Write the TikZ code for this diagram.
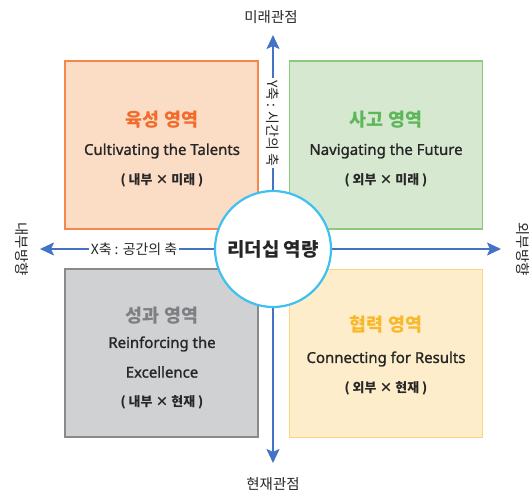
\documentclass[tikz,border=0pt]{standalone}
\usepackage{fontspec}
\setmainfont{Noto Sans CJK KR}
\newfontfamily\engfont{Noto Sans}[FakeBold=1.2]
\usetikzlibrary{arrows.meta}
\definecolor{axisblue}{HTML}{4472C4}
\definecolor{ringblue}{HTML}{3EC1F0}
\definecolor{orfill}{HTML}{FBDCC5}
\definecolor{ordraw}{HTML}{F4874B}
\definecolor{ortext}{HTML}{F26B2C}
\definecolor{grfill}{HTML}{D7E8D1}
\definecolor{grdraw}{HTML}{8DC97D}
\definecolor{grtext}{HTML}{5DB75A}
\definecolor{gyfill}{HTML}{D0D1D3}
\definecolor{gydraw}{HTML}{8A8A8A}
\definecolor{gytext}{HTML}{7D7F82}
\definecolor{yefill}{HTML}{FDEDCB}
\definecolor{yedraw}{HTML}{FBD582}
\definecolor{yetext}{HTML}{F8B829}
\definecolor{txt}{HTML}{262626}
\tikzset{
  quad/.style={draw, line width=1.2bp, minimum width=193bp, minimum height=168bp, inner sep=0pt},
  ttl/.style={font=\bfseries\fontsize{18.5}{21}\selectfont, inner sep=0pt},
  eng/.style={font=\engfont\fontsize{15}{17}\selectfont, text=txt, inner sep=0pt},
  par/.style={font=\bfseries\fontsize{13}{15}\selectfont, text=txt, inner sep=0pt},
  axl/.style={font=\fontsize{14}{16}\selectfont, text=txt, fill=white, inner sep=2bp},
  dirl/.style={font=\fontsize{14.5}{16}\selectfont, text=txt, inner sep=0pt, rotate=-90},
  axis/.style={draw=axisblue, line width=2bp, -{Stealth[length=14bp,width=13bp,inset=3bp]}},
}
\begin{document}
\begin{tikzpicture}[x=1bp,y=-1bp]
\useasboundingbox (0,0) rectangle (531,495);
% quadrants
\node[quad, fill=orfill, draw=ordraw] (q1) at (161.5,145) {};
\node[quad, fill=grfill, draw=grdraw] (q2) at (386,145) {};
\node[quad, fill=gyfill, draw=gydraw] (q3) at (161.5,353) {};
\node[quad, fill=yefill, draw=yedraw] (q4) at (386,353.5) {};
% axes
\coordinate (c) at (273,249);
\coordinate (top) at (273,35);
\coordinate (bot) at (273,463);
\coordinate (lft) at (40,249);
\coordinate (rgt) at (501,249);
\draw[axis] (c) -- (top);
\draw[axis] (c) -- (bot);
\draw[axis] (c) -- (lft);
\draw[axis] (c) -- (rgt);
% axis labels
\node[axl, rotate=-90] (ylab) at (273,123) {Y축 : 시간의 축};
\node[axl] (xlab) at (134,249) {X축 : 공간의 축};
\node[font=\fontsize{14.5}{16}\selectfont, text=txt, inner sep=0pt] (fut) at (271,17) {미래관점};
\node[font=\fontsize{14.5}{16}\selectfont, text=txt, inner sep=0pt] (pre) at (273,484) {현재관점};
\node[dirl] (inl) at (22,249) {내부방향};
\node[dirl] (outl) at (523,249) {외부방향};
% quadrant texts
\node[ttl, text=ortext] (t1) at (162,120) {육성 영역};
\node[eng] (e1) at (162,151) {Cultivating the Talents};
\node[par] (p1) at (162,180) {( 내부 × 미래 )};
\node[ttl, text=grtext] (t2) at (386,120) {사고 영역};
\node[eng] (e2) at (386,151) {Navigating the Future};
\node[par] (p2) at (386,180) {( 외부 × 미래 )};
\node[ttl, text=gytext] (t3) at (162,316) {성과 영역};
\node[eng] (e3a) at (162,344) {Reinforcing the};
\node[eng] (e3b) at (162,372) {Excellence};
\node[par] (p3) at (162,402) {( 내부 × 현재 )};
\node[ttl, text=yetext] (t4) at (386,325) {협력 영역};
\node[eng] (e4) at (386,359) {Connecting for Results};
\node[par] (p4) at (386,388) {( 외부 × 현재 )};
% center circle
\node[circle, draw=ringblue, fill=white, line width=2.2bp, minimum size=116bp, inner sep=0pt,
      font=\bfseries\fontsize{19}{21}\selectfont, text=txt] (core) at (c) {리더십 역량};
\end{tikzpicture}
\end{document}
